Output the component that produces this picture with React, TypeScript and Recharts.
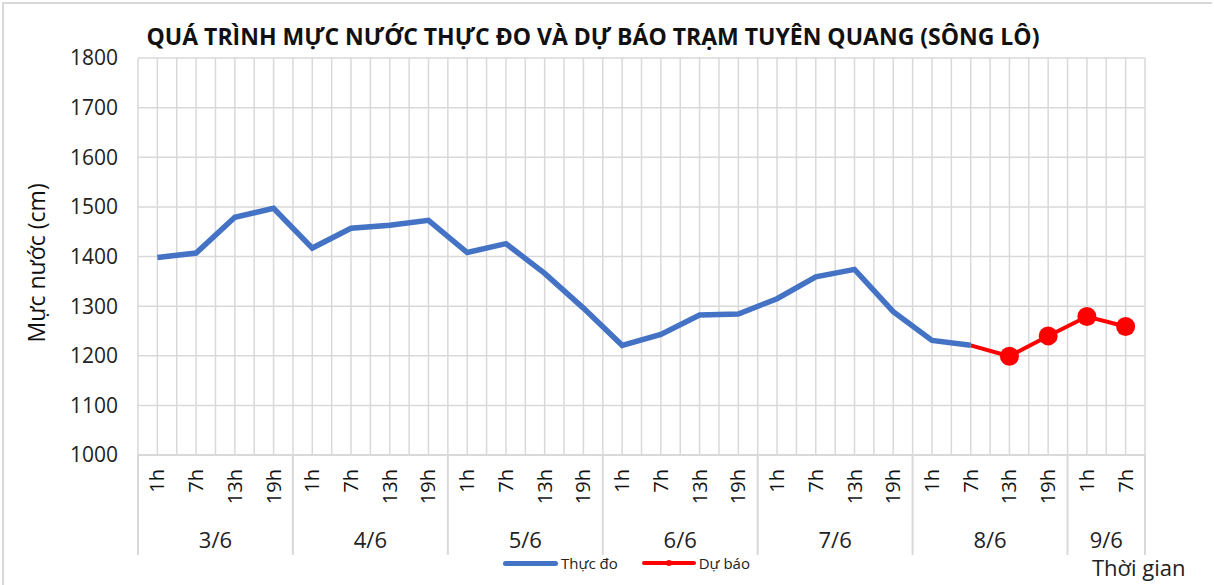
import { LineChart, Line, XAxis, YAxis, CartesianGrid } from 'recharts';

const days = ['3/6', '4/6', '5/6', '6/6', '7/6', '8/6', '9/6'];
const dayHours = [
  ['1h', '7h', '13h', '19h'],
  ['1h', '7h', '13h', '19h'],
  ['1h', '7h', '13h', '19h'],
  ['1h', '7h', '13h', '19h'],
  ['1h', '7h', '13h', '19h'],
  ['1h', '7h', '13h', '19h'],
  ['1h', '7h'],
];
const observed = [
  1398, 1407, 1479, 1497,
  1417, 1457, 1463, 1473,
  1408, 1426, 1366, 1296,
  1221, 1243, 1282, 1284,
  1315, 1359, 1374, 1289,
  1231, 1221, null, null,
  null, null,
];
const forecast = [
  null, null, null, null,
  null, null, null, null,
  null, null, null, null,
  null, null, null, null,
  null, null, null, null,
  null, 1221, 1199, 1240,
  1279, 1259,
];
const yTicks = [1000, 1100, 1200, 1300, 1400, 1500, 1600, 1700, 1800];

const data: { key: string; hour: string; day: string; first: boolean; size: number; obs: number | null; fc: number | null }[] = [];
days.forEach((d, di) => {
  dayHours[di].forEach((h, hi) => {
    const i = data.length;
    data.push({ key: d + ' ' + h, hour: h, day: d, first: hi === 0, size: dayHours[di].length, obs: observed[i], fc: forecast[i] });
  });
});

const W = 1214;
const H = 585;
const LEFT = 138;
const RIGHT = 1145;
const TOP = 58;
const BOTTOM = 455;
const band = (RIGHT - LEFT) / data.length;
const font = 'Open Sans, "Noto Sans", sans-serif';

function HourTick(props: any) {
  const { x, payload } = props;
  const row = data[payload.index];
  const left = x - band / 2;
  const bx = x + 7;
  const by = BOTTOM + 14;
  return (
    <g>
      <text
        x={bx}
        y={by}
        transform={`rotate(-90, ${bx}, ${by})`}
        textAnchor="end"
        fontSize={20}
        fill="#111"
        fontFamily={font}
      >
        {row.hour}
      </text>
      {row.first && (
        <>
          <line x1={left} x2={left} y1={BOTTOM} y2={BOTTOM + 100} stroke="#d9d9d9" strokeWidth={2} />
          <text
            x={left + (band * row.size) / 2}
            y={BOTTOM + 93}
            textAnchor="middle"
            fontSize={22}
            fill="#222"
            fontFamily={font}
          >
            {row.day}
          </text>
        </>
      )}
      {payload.index === data.length - 1 && (
        <line x1={x + band / 2} x2={x + band / 2} y1={BOTTOM} y2={BOTTOM + 100} stroke="#d9d9d9" strokeWidth={2} />
      )}
    </g>
  );
}

function ForecastDot(props: any) {
  const { cx, cy, index, value } = props;
  if (value == null || index <= 21) return <g key={index} />;
  return <circle key={index} cx={cx} cy={cy} r={9.5} fill="#ff0000" />;
}

export default function App() {
  return (
    <div style={{ position: 'absolute', left: 0, top: 0, width: W, height: H, background: '#fff', fontFamily: font }}>
      <div style={{ position: 'absolute', left: 2, top: 2, width: W - 6, height: H - 4, border: '2px solid #d9d9d9', borderRight: 'none', borderBottom: 'none' }} />
      <div
        style={{
          position: 'absolute',
          left: 93,
          width: 1000,
          top: 20,
          lineHeight: '32px',
          textAlign: 'center',
          fontWeight: 700,
          fontSize: 23,
          color: '#111',
          whiteSpace: 'nowrap',
        }}
      >
        QUÁ TRÌNH MỰC NƯỚC THỰC ĐO VÀ DỰ BÁO TRẠM TUYÊN QUANG (SÔNG LÔ)
      </div>
      <LineChart
        width={W}
        height={H}
        data={data}
        margin={{ top: TOP, right: W - RIGHT, left: LEFT - 70, bottom: 0 }}
      >
        <CartesianGrid
          stroke="#d9d9d9"
          strokeWidth={1.5}
          verticalCoordinatesGenerator={({ offset }: any) =>
            Array.from({ length: data.length * 2 + 1 }, (_, k) => offset.left + (k * offset.width) / (data.length * 2))
          }
        />
        <XAxis
          dataKey="key"
          scale="band"
          interval={0}
          height={H - BOTTOM}
          tick={<HourTick />}
          tickLine={false}
          axisLine={{ stroke: '#d9d9d9', strokeWidth: 2 }}
        />
        <YAxis
          domain={[1000, 1800]}
          ticks={yTicks}
          width={70}
          tick={{ fontSize: 21, fill: '#222', fontFamily: font }}
          tickLine={false}
          axisLine={false}
          tickMargin={14}
          label={{
            value: 'Mực nước (cm)',
            angle: -90,
            position: 'insideLeft',
            dx: -36,
            dy: 86,
            style: { fontSize: 23, fill: '#111', fontFamily: font },
          }}
        />
        <Line
          dataKey="fc"
          name="Dự báo"
          stroke="#ff0000"
          strokeWidth={4}
          dot={<ForecastDot />}
          activeDot={false}
          isAnimationActive={false}
        />
        <Line
          dataKey="obs"
          name="Thực đo"
          stroke="#4472c4"
          strokeWidth={5.5}
          dot={false}
          activeDot={false}
          isAnimationActive={false}
        />
      </LineChart>
      <div style={{ position: 'absolute', left: 503, top: 553, display: 'flex', alignItems: 'center', fontSize: 15, color: '#222', lineHeight: '20px' }}>
        <div style={{ width: 55, height: 5, borderRadius: 3, background: '#4472c4', marginRight: 3 }} />
        <span>Thực đo</span>
        <div style={{ position: 'relative', width: 54, height: 4, borderRadius: 2, background: '#ff0000', marginLeft: 24, marginRight: 3 }}>
          <div style={{ position: 'absolute', left: 24, top: -1, width: 6, height: 6, borderRadius: 3, background: '#ff0000' }} />
        </div>
        <span>Dự báo</span>
      </div>
      <div style={{ position: 'absolute', left: 1092, top: 556, fontSize: 22, color: '#222', lineHeight: '22px' }}>Thời gian</div>
    </div>
  );
}
